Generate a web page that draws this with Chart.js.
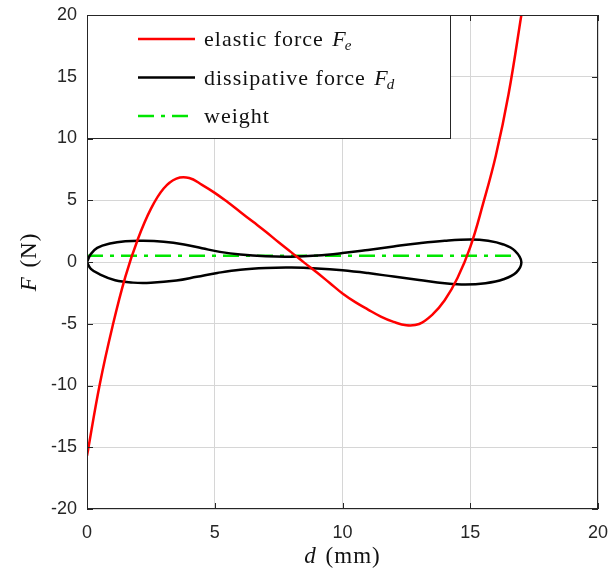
<!DOCTYPE html>
<html>
<head>
<meta charset="utf-8">
<script src="https://cdn.jsdelivr.net/npm/chart.js@4"></script>
<style>
  html, body { margin: 0; padding: 0; background: #fff; }
  #wrap { width: 608px; height: 571px; }
</style>
</head>
<body>
<div id="wrap"><canvas id="forceChart" width="608" height="571"></canvas></div>
<script>
// axis ticks
const dTicks = [0, 5, 10, 15, 20]
const fTicks = [-20, -15, -10, -5, 0, 5, 10, 15, 20]

// elastic force vs displacement (mm, N)
const elasticD = [0, 0.5, 1.0, 1.5, 2.0, 2.5, 3.0, 3.5, 4.0, 4.5, 5.0, 5.5, 6.0, 6.5, 7.0, 7.5, 8.0, 8.5, 9.0,
                  9.5, 10.0, 10.5, 11.0, 11.5, 12.0, 12.5, 13.0, 13.5, 14.0, 14.5, 15.0, 15.5, 16.0, 16.5, 17.0, 17.3]
const elasticF = [-15.7, -9.9, -5.2, -1.2, 1.9, 4.3, 5.95, 6.75, 6.8, 6.25, 5.6, 4.85, 4.05, 3.25, 2.45, 1.6, 0.78, -0.05, -0.85,
                  -1.7, -2.55, -3.25, -3.85, -4.42, -4.85, -5.12, -5.02, -4.3, -3.1, -1.3, 1.2, 4.7, 8.6, 13.6, 20, 24]

// dissipative force loop: upper branch out, lower branch back
const dissipD = [0, 0.15, 0.4, 0.9, 1.5, 2.2, 3.0, 3.8, 4.5, 5.2, 6.0, 7.0, 8.0, 9.0, 10.0, 11.0, 12.0, 13.0, 14.0, 15.0, 15.7, 16.3, 16.75, 17.0,
                 16.8, 16.3, 15.6, 14.8, 14.0, 13.0, 12.0, 11.0, 10.0, 9.0, 8.0, 7.0, 6.0, 5.1, 4.3, 3.5, 2.5, 1.8, 1.1, 0.5, 0.15, 0]
const dissipF = [0, 0.65, 1.15, 1.5, 1.68, 1.72, 1.64, 1.42, 1.12, 0.82, 0.6, 0.46, 0.43, 0.52, 0.72, 0.98, 1.26, 1.52, 1.72, 1.82, 1.72, 1.42, 0.9, 0,
                 -0.85, -1.4, -1.72, -1.83, -1.72, -1.45, -1.18, -0.9, -0.67, -0.52, -0.45, -0.48, -0.62, -0.89, -1.2, -1.5, -1.68, -1.67, -1.48, -1.0, -0.55, 0]

// constant weight
const weightD = [0, 16.9]
const weightF = [0.5, 0.5]

const seriesLabels = ['elastic force F_e', 'dissipative force F_d', 'weight']

const toPoints = (xs, ys) => xs.map((x, i) => ({ x: x, y: ys[i] }))

const axisColor = '#262626'
const tickFont = { family: 'Liberation Sans', size: 18 }
const serif = 'Liberation Serif'

// text like "elastic force F_e": plain words, italic F, italic subscript
function drawMathLabel(ctx, text, x, y, size) {
    const m = text.match(/^(.*?)\s*(?:(\w)_(\w))?$/)
    ctx.textBaseline = 'alphabetic'
    ctx.textAlign = 'left'
    ctx.letterSpacing = '1px'
    ctx.font = `${size}px ${serif}`
    ctx.fillText(m[1], x, y)
    x += ctx.measureText(m[1] + ' ').width + 2
    if (m[2]) {
        ctx.font = `italic ${size}px ${serif}`
        ctx.fillText(m[2], x, y)
        x += ctx.measureText(m[2]).width
        ctx.font = `italic ${Math.round(size * 0.7)}px ${serif}`
        ctx.fillText(m[3], x - 2, y + 4)
    }
    ctx.letterSpacing = '0px'
}

function drawAxisTitle(ctx, sym, unit, cx, cy, size) {
    ctx.textBaseline = 'middle'
    ctx.textAlign = 'left'
    ctx.letterSpacing = '1px'
    ctx.font = `italic ${size}px ${serif}`
    const w1 = ctx.measureText(sym + ' ').width + 2
    ctx.font = `${size}px ${serif}`
    const w2 = ctx.measureText(unit).width
    let x = cx - (w1 + w2) / 2
    ctx.font = `italic ${size}px ${serif}`
    ctx.fillText(sym, x, cy)
    ctx.font = `${size}px ${serif}`
    ctx.fillText(unit, x + w1, cy)
    ctx.letterSpacing = '0px'
}

const framePlugin = {
    id: 'frame',
    afterDatasetsDraw(chart) {
        const ctx = chart.ctx
        const a = chart.chartArea
        const xs = chart.scales.x
        const ys = chart.scales.y
        ctx.save()

        // box and inward ticks
        ctx.strokeStyle = axisColor
        ctx.lineWidth = 1
        ctx.strokeRect(a.left + 0.5, a.top + 0.5, a.right - a.left - 1, a.bottom - a.top - 1)
        ctx.beginPath()
        dTicks.forEach(v => {
            const px = Math.round(xs.getPixelForValue(v)) + 0.5
            ctx.moveTo(px, a.bottom); ctx.lineTo(px, a.bottom - 6)
            ctx.moveTo(px, a.top); ctx.lineTo(px, a.top + 6)
        })
        fTicks.forEach(v => {
            const py = Math.round(ys.getPixelForValue(v)) + 0.5
            ctx.moveTo(a.left, py); ctx.lineTo(a.left + 6, py)
            ctx.moveTo(a.right, py); ctx.lineTo(a.right - 6, py)
        })
        ctx.stroke()

        // legend box in the upper left corner
        const boxBottom = Math.round(ys.getPixelForValue(10)) - 1
        const boxRight = 451
        ctx.fillStyle = '#fff'
        ctx.fillRect(a.left, a.top, boxRight - a.left, boxBottom - a.top)
        ctx.strokeStyle = axisColor
        ctx.strokeRect(a.left + 0.5, a.top + 0.5, boxRight - a.left - 1, boxBottom - a.top)
        chart.data.datasets.forEach((ds, i) => {
            const rowY = a.top + 24 + i * 38.5
            ctx.beginPath()
            ctx.strokeStyle = ds.borderColor
            ctx.lineWidth = ds.borderWidth
            ctx.setLineDash(ds.borderDash || [])
            ctx.moveTo(138, rowY); ctx.lineTo(195, rowY)
            ctx.stroke()
            ctx.setLineDash([])
            ctx.fillStyle = '#111'
            drawMathLabel(ctx, ds.label, 204, rowY + 7, 22)
        })

        // axis titles
        ctx.fillStyle = '#111'
        drawAxisTitle(ctx, 'd', '(mm)', (a.left + a.right) / 2, 557, 23)
        ctx.translate(30, (a.top + a.bottom) / 2)
        ctx.rotate(-Math.PI / 2)
        drawAxisTitle(ctx, 'F', '(N)', 0, 0, 23)
        ctx.restore()
    }
}

// fixed plot box: no extra room for overhanging tick labels
function fixScale(s, size) {
    if (s.isHorizontal()) s.height = size
    else s.width = size
    s.paddingLeft = s.paddingRight = s.paddingTop = s.paddingBottom = 0
}

const ctx = document.getElementById('forceChart').getContext('2d')
new Chart(ctx, {
    type: 'scatter',
    data: {
        datasets: [{
            label: seriesLabels[0],
            data: toPoints(elasticD, elasticF),
            showLine: true,
            borderColor: '#ff0000',
            borderWidth: 2.5,
            pointRadius: 0,
            tension: 0.4
        }, {
            label: seriesLabels[1],
            data: toPoints(dissipD, dissipF),
            showLine: true,
            borderColor: '#000000',
            borderWidth: 2.5,
            pointRadius: 0,
            tension: 0.4
        }, {
            label: seriesLabels[2],
            data: toPoints(weightD, weightF),
            showLine: true,
            borderColor: '#00e600',
            borderWidth: 2.5,
            borderDash: [16, 7, 4, 7],
            pointRadius: 0
        }]
    },
    options: {
        responsive: false,
        animation: false,
        layout: { padding: { left: 0, right: 10, top: 15, bottom: 0 } },
        plugins: {
            legend: { display: false },
            tooltip: { enabled: false }
        },
        scales: {
            x: {
                type: 'linear',
                min: 0,
                max: 20,
                afterFit: s => fixScale(s, 62),
                afterBuildTicks: s => { s.ticks = dTicks.map(v => ({ value: v })) },
                grid: { color: '#d6d6d6', drawTicks: false },
                border: { display: false },
                ticks: { font: tickFont, color: axisColor, padding: 13, maxRotation: 0 }
            },
            y: {
                type: 'linear',
                min: -20,
                max: 20,
                afterFit: s => fixScale(s, 87),
                afterBuildTicks: s => { s.ticks = fTicks.map(v => ({ value: v })) },
                grid: { color: '#d6d6d6', drawTicks: false },
                border: { display: false },
                ticks: { font: tickFont, color: axisColor, padding: 10 }
            }
        }
    },
    plugins: [framePlugin]
})
</script>
</body>
</html>
